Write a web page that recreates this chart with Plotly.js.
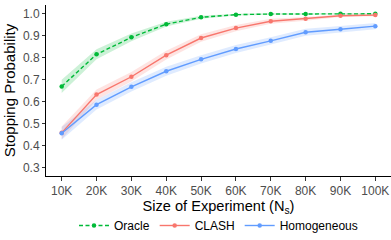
<!DOCTYPE html>
<html><head><meta charset="utf-8">
<script src="https://cdn.plot.ly/plotly-3.0.1.min.js"></script>
<style>html,body{margin:0;padding:0;background:#fff}</style>
</head><body><div id="chart" style="width:391px;height:240px"></div>
<script>
const xVals = [10, 20, 30, 40, 50, 60, 70, 80, 90, 100];
const xTickLabels = ["10K","20K","30K","40K","50K","60K","70K","80K","90K","100K"];
const oracle = [0.670, 0.816, 0.893, 0.953, 0.984, 0.996, 0.999, 0.999, 1.000, 1.000];
const oracleLo = [0.640, 0.793, 0.875, 0.942, 0.977, 0.992, 0.996, 0.996, 0.997, 0.997];
const oracleHi = [0.700, 0.839, 0.911, 0.964, 0.991, 1.000, 1.002, 1.002, 1.003, 1.003];
const clash = [0.459, 0.633, 0.714, 0.812, 0.890, 0.935, 0.966, 0.977, 0.991, 0.994];
const clashLo = [0.430, 0.610, 0.692, 0.792, 0.873, 0.921, 0.955, 0.968, 0.985, 0.989];
const clashHi = [0.488, 0.656, 0.736, 0.832, 0.907, 0.949, 0.977, 0.986, 0.997, 0.999];
const homog = [0.457, 0.587, 0.668, 0.739, 0.793, 0.840, 0.877, 0.916, 0.930, 0.944];
const homogLo = [0.428, 0.565, 0.647, 0.719, 0.774, 0.822, 0.860, 0.900, 0.915, 0.930];
const homogHi = [0.486, 0.609, 0.689, 0.759, 0.812, 0.858, 0.894, 0.932, 0.945, 0.958];

function ribbon(lo, hi, col) {
  return {x: xVals.concat(xVals.slice().reverse()), y: lo.concat(hi.slice().reverse()),
    type: 'scatter', mode: 'none', fill: 'toself', fillcolor: col, showlegend: false, hoverinfo: 'skip'};
}
function line(y, name, col, dash) {
  return {x: xVals, y: y, name: name, type: 'scatter', mode: 'lines+markers',
    line: {color: col, width: 1.4, dash: dash}, marker: {color: col, size: 4.5}};
}
const data = [
  ribbon(oracleLo, oracleHi, 'rgba(0,186,56,0.2)'),
  ribbon(clashLo, clashHi, 'rgba(248,118,109,0.2)'),
  ribbon(homogLo, homogHi, 'rgba(97,156,255,0.2)'),
  line(oracle, 'Oracle', '#00BA38', '4px,2.5px'),
  line(clash, 'CLASH', '#F8766D', 'solid'),
  line(homog, 'Homogeneous', '#619CFF', 'solid')
];
const layout = {
  width: 391, height: 240,
  margin: {l: 46, r: 0, t: 5, b: 59},
  paper_bgcolor: '#fff', plot_bgcolor: '#fff',
  font: {family: 'Liberation Sans, Arial, sans-serif', color: '#000'},
  xaxis: {range: [5.5, 104.5], tickvals: xVals, ticktext: xTickLabels,
    showgrid: false, zeroline: false, showline: true, linecolor: '#000', linewidth: 1,
    ticks: 'outside', ticklen: 3.5, tickcolor: '#333', tickfont: {size: 12, color: '#4d4d4d'},
    title: {text: 'Size of Experiment (N<sub>s</sub>)', font: {size: 14.6, color: '#000'}, standoff: 3}},
  yaxis: {range: [0.263, 1.04], tickvals: [0.3,0.4,0.5,0.6,0.7,0.8,0.9,1.0],
    ticktext: ['0.3','0.4','0.5','0.6','0.7','0.8','0.9','1.0'],
    showgrid: false, zeroline: false, showline: true, linecolor: '#000', linewidth: 1,
    ticks: 'outside', ticklen: 3, tickcolor: '#333', tickfont: {size: 12, color: '#4d4d4d'},
    title: {text: 'Stopping Probability', font: {size: 15, color: '#000'}, standoff: 3}},
  legend: {orientation: 'h', x: 0.5, xanchor: 'center', y: -0.29, yanchor: 'middle',
    itemwidth: 30, font: {size: 12, color: '#000'}, bgcolor: 'rgba(0,0,0,0)'},
  showlegend: true
};
Plotly.newPlot('chart', data, layout, {displayModeBar: false, staticPlot: true});
</script></body></html>
